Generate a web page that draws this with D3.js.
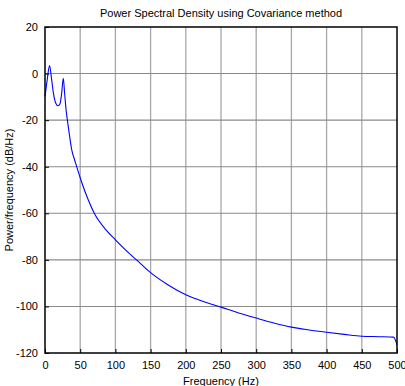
<!DOCTYPE html>
<html>
<head>
<meta charset="utf-8">
<script src="https://cdn.jsdelivr.net/npm/d3@7"></script>
<style>
  html, body { margin: 0; padding: 0; background: #fff; }
  svg text { font-family: "Liberation Sans", Arial, sans-serif; }
</style>
</head>
<body>
<div id="chart"></div>
<script>
// ── Data ──────────────────────────────────────────────────────────────────
const freqHz = [0, 3, 6.5, 9, 12, 15, 18.5, 21, 23.5, 26, 28, 30, 32, 35, 38, 42, 45,
                51, 61.5, 70, 86.6, 100, 115, 130, 150, 175, 200, 225, 250, 275, 300,
                325, 350, 375, 400, 425, 450, 475, 495, 500];
const psdDb  = [-9.8, -3, 3.4, -1.5, -8.5, -12.5, -13.8, -13.2, -9, -2, -9, -15.7, -20.5,
                -27, -32.8, -37, -40, -45.7, -54.3, -60, -67.1, -71.4, -75.9, -80, -85.5,
                -90.8, -95, -97.9, -100.3, -102.8, -105, -107.1, -108.9, -110.1, -111.1,
                -112, -112.8, -113, -113.2, -116.5];
const xTicks = [0, 50, 100, 150, 200, 250, 300, 350, 400, 450, 500];
const yTicks = [20, 0, -20, -40, -60, -80, -100, -120];

const W = 405, H = 386;
const margin = { top: 27, right: 8, bottom: 33, left: 45 };
const width  = W - margin.left - margin.right;
const height = H - margin.top - margin.bottom;

const svg = d3.select("#chart").append("svg")
  .attr("width", W).attr("height", H);

const g = svg.append("g")
  .attr("transform", `translate(${margin.left},${margin.top})`);

const x = d3.scaleLinear().domain([0, 500]).range([0, width]);
const y = d3.scaleLinear().domain([-120, 20]).range([height, 0]);

// grid
g.append("g").selectAll("line")
  .data(xTicks.slice(1, -1))
  .join("line")
    .attr("x1", d => x(d)).attr("x2", d => x(d))
    .attr("y1", 0).attr("y2", height)
    .attr("stroke", "#a8a8a8").attr("stroke-width", 1.3);
g.append("g").selectAll("line")
  .data(yTicks.slice(1, -1))
  .join("line")
    .attr("x1", 0).attr("x2", width)
    .attr("y1", d => y(d)).attr("y2", d => y(d))
    .attr("stroke", "#8a8a8a").attr("stroke-width", 1.1);

// curve
const line = d3.line()
  .x((d, i) => x(freqHz[i]))
  .y(d => y(d))
  .curve(d3.curveMonotoneX);

g.append("path")
  .datum(psdDb)
  .attr("fill", "none")
  .attr("stroke", "#0000ff")
  .attr("stroke-width", 1.1)
  .attr("d", line);

// axes (ticks pointing inward), plain hyphen minus like the original
const fmt = d => String(d);
const xAxis = g.append("g")
  .attr("transform", `translate(0,${height})`)
  .call(d3.axisBottom(x).tickValues(xTicks).tickFormat(fmt)
    .tickSizeInner(-4).tickSizeOuter(0).tickPadding(8));
const yAxis = g.append("g")
  .call(d3.axisLeft(y).tickValues(yTicks).tickFormat(fmt)
    .tickSizeInner(-4).tickSizeOuter(0).tickPadding(7));

[xAxis, yAxis].forEach(a => {
  a.select(".domain").remove();
  a.selectAll("line").attr("stroke", "#000");
  a.selectAll("text").style("font-size", "11px").attr("fill", "#000");
});

// frame box
g.append("rect")
  .attr("width", width).attr("height", height)
  .attr("fill", "none").attr("stroke", "#000").attr("stroke-width", 1.5);

// labels
svg.append("text")
  .attr("x", margin.left + width / 2).attr("y", 17)
  .attr("text-anchor", "middle")
  .style("font-size", "11px")
  .text("Power Spectral Density using Covariance method");

svg.append("text")
  .attr("x", margin.left + width / 2).attr("y", 385)
  .attr("text-anchor", "middle")
  .style("font-size", "11px")
  .text("Frequency (Hz)");

svg.append("text")
  .attr("transform", `translate(13,${margin.top + height / 2}) rotate(-90)`)
  .attr("text-anchor", "middle")
  .style("font-size", "11px")
  .text("Power/frequency (dB/Hz)");
</script>
</body>
</html>
